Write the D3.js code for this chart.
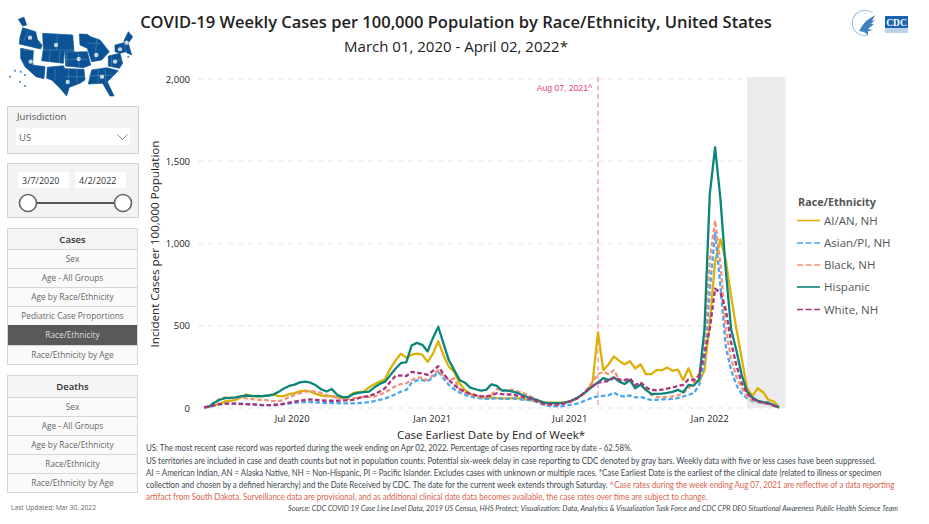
<!DOCTYPE html>
<html><head><meta charset="utf-8">
<script src="https://cdn.jsdelivr.net/npm/d3@7/dist/d3.min.js"></script>
<style>
html,body{margin:0;padding:0;background:#fff;overflow:hidden}
svg{display:block}
text{font-family:"Open Sans","Noto Sans",sans-serif}
.note{font-family:"Lato","Noto Sans",sans-serif;font-size:9px;fill:#40484f}
</style></head><body>
<svg id="c" width="929" height="524"></svg>
<script>
const startDate="2020-03-07";
const yTicks=[0,500,1000,1500,2000];
const xTickDates=["2020-07-01","2021-01-01","2021-07-01","2022-01-01"];
const xTickLabels=["Jul 2020","Jan 2021","Jul 2021","Jan 2022"];
const seriesNames=["AI/AN, NH","Asian/PI, NH","Black, NH","Hispanic","White, NH"];
const seriesColors=["#dcb005","#4aa5f5","#ef9476","#0a857a","#a8337f"];
const seriesDashed=[false,true,true,false,true];
const aian=[4,8,18,26,40,44,50,66,82,74,70,72,76,82,72,72,84,90,102,106,100,86,76,72,72,64,60,66,90,96,100,126,144,160,174,240,290,330,306,324,330,324,280,330,406,320,250,220,150,110,86,76,66,60,64,
60,58,58,60,58,54,50,44,38,34,32,32,32,36,44,58,80,106,160,460,230,266,314,286,266,284,240,266,206,206,230,230,246,226,234,170,242,160,160,230,520,890,1025,900,680,480,300,120,74,120,96,50,40,6];
const asian=[4,8,14,22,26,26,26,26,24,22,20,18,18,18,20,24,28,32,34,36,36,34,32,30,30,30,28,28,28,30,32,36,42,50,58,70,84,100,110,154,168,170,162,186,220,180,140,114,94,80,70,64,58,56,56,
60,56,56,58,54,50,48,44,28,18,12,10,10,14,20,26,38,50,64,70,74,78,94,74,70,76,64,68,56,50,50,52,54,56,60,70,80,90,140,290,720,1065,740,375,230,140,85,60,42,36,30,26,14,3];
const black=[4,12,36,56,64,62,60,64,58,54,50,50,46,42,40,50,66,80,90,100,102,100,92,78,70,64,58,56,58,64,66,68,70,80,94,114,134,146,150,170,184,184,168,200,230,194,170,180,114,94,80,74,70,70,80,
116,106,110,110,100,90,76,60,40,20,18,18,20,30,40,56,80,114,160,206,220,206,230,170,164,174,126,150,110,80,66,66,68,70,76,90,120,150,210,375,900,1140,880,480,300,190,120,70,46,38,32,26,14,3];
const hispanic=[4,10,34,50,60,62,64,72,76,72,74,72,76,82,98,118,134,142,156,160,154,138,114,100,116,80,66,66,84,92,96,100,126,146,160,200,240,274,278,380,396,384,344,426,494,390,290,230,170,154,124,114,106,110,144,
134,106,106,100,90,76,64,54,44,32,30,30,30,34,44,60,80,106,132,156,182,170,186,160,146,170,120,142,110,86,86,88,92,98,110,96,140,136,174,480,1300,1585,1270,840,480,350,200,100,64,44,36,32,18,4];
const white=[4,8,18,24,26,26,26,24,24,22,20,18,18,18,20,26,32,38,44,50,52,50,46,44,44,44,46,46,50,60,68,74,84,100,120,160,196,198,194,220,214,210,202,226,254,206,170,140,114,100,86,78,72,70,76,
90,84,82,82,74,66,58,50,36,24,22,20,24,30,44,58,80,110,134,154,160,164,184,174,170,180,140,156,126,110,108,112,118,124,134,140,174,170,194,330,480,725,700,600,400,260,150,90,56,40,32,26,14,3];
const seriesValues=[aian,asian,black,hispanic,white];
const casesMenu=["Sex","Age - All Groups","Age by Race/Ethnicity","Pediatric Case Proportions","Race/Ethnicity","Race/Ethnicity by Age"];
const deathsMenu=["Sex","Age - All Groups","Age by Race/Ethnicity","Race/Ethnicity","Race/Ethnicity by Age"];

const svg=d3.select("#c");
const parse=d3.utcParse("%Y-%m-%d");
const t0=parse(startDate);
const dates=aian.map((_,i)=>d3.utcDay.offset(t0,i*7));
const x=d3.scaleUtc().domain([t0,dates[dates.length-1]]).range([204,779]);
const y=d3.scaleLinear().domain([0,2000]).range([408,79]);

svg.append("rect").attr("x",747).attr("y",77).attr("width",38.5).attr("height",331).attr("fill","#ebebeb");
svg.append("g").selectAll("line").data(yTicks).join("line")
 .attr("x1",198).attr("x2",785).attr("y1",d=>y(d)).attr("y2",d=>y(d))
 .attr("stroke","#ededed").attr("stroke-width",1.4).attr("stroke-dasharray","5,5");
svg.append("g").selectAll("text").data(yTicks).join("text")
 .attr("x",190).attr("y",d=>y(d)+3.5).attr("text-anchor","end").attr("font-size",9.5).attr("fill","#222")
 .text(d=>d3.format(",")(d));
svg.append("g").selectAll("text").data(xTickDates).join("text")
 .attr("x",d=>x(parse(d))).attr("y",421.5).attr("text-anchor","middle").attr("font-size",9.5).attr("fill","#222")
 .text((d,i)=>xTickLabels[i]);
const refDate=parse("2021-08-07");
svg.append("line").attr("x1",x(refDate)).attr("x2",x(refDate)).attr("y1",77).attr("y2",408)
 .attr("stroke","#f4bcc8").attr("stroke-width",2).attr("stroke-dasharray","5,3.5");
svg.append("text").attr("x",x(refDate)-6).attr("y",91).attr("text-anchor","end").attr("font-size",8.6).attr("fill","#e0446a").style("font-family","'Liberation Sans',sans-serif").text("Aug 07, 2021^");

const line=d3.line().x((d,i)=>x(dates[i])).y(d=>y(d)).curve(d3.curveLinear);
svg.append("g").attr("fill","none").selectAll("path").data(seriesValues).join("path")
 .attr("d",d=>line(d)).attr("stroke",(d,i)=>seriesColors[i]).attr("stroke-width",2.3)
 .attr("stroke-dasharray",(d,i)=>seriesDashed[i]?"4.5,2.5":null).attr("stroke-linejoin","round");

svg.append("text").attr("x",456).attr("y",28).attr("text-anchor","middle").attr("font-size",16.5).attr("font-weight",600).attr("fill","#222")
 .text("COVID-19 Weekly Cases per 100,000 Population by Race/Ethnicity, United States");
svg.append("text").attr("x",456).attr("y",52).attr("text-anchor","middle").attr("font-size",15).attr("fill","#222")
 .text("March 01, 2020 - April 02, 2022*");
svg.append("text").attr("transform","translate(159,244) rotate(-90)").attr("text-anchor","middle").attr("font-size",11.6).attr("fill","#222")
 .text("Incident Cases per 100,000 Population");
svg.append("text").attr("x",491).attr("y",438.5).attr("text-anchor","middle").attr("font-size",11.5).attr("fill","#222")
 .text("Case Earliest Date by End of Week*");

svg.append("text").attr("x",798).attr("y",205.5).attr("font-size",10.8).attr("font-weight",700).attr("fill","#555").text("Race/Ethnicity");
const legendY=[220.5,243,265,287,309.5];
const lg=svg.append("g").selectAll("g").data(seriesNames).join("g").attr("transform",(d,i)=>`translate(797,${legendY[i]})`);
lg.append("line").attr("x2",23).attr("stroke",(d,i)=>seriesColors[i]).attr("stroke-width",1.6).attr("stroke-dasharray",(d,i)=>seriesDashed[i]?"6,2.6":null);
lg.append("text").attr("x",27).attr("y",4).attr("font-size",11.5).attr("fill","#555").text(d=>d);

// fit a text to a given pixel width by horizontal scaling
function fit(t,px,py,w){
 const k=w/t.node().getComputedTextLength();
 t.attr("transform",`translate(${px},${py}) scale(${k},1)`);
}
const notes=[
 [451,487,[["US: The most recent case record was reported during the week ending on Apr 02, 2022. Percentage of cases reporting race by date - 62.58%.","#40484f"]]],
 [464,731,[["US territories are included in case and death counts but not in population counts. Potential six-week delay in case reporting to CDC denoted by gray bars. Weekly data with five or less cases have been suppressed.","#40484f"]]],
 [476,737,[["AI = American Indian, AN = Alaska Native, NH = Non-Hispanic, PI = Pacific Islander. Excludes cases with unknown or multiple races.  *Case Earliest Date is the earliest of the clinical date (related to illness or specimen","#40484f"]]],
 [488,750,[["collection and chosen by a defined hierarchy) and the Date Received by CDC. The date for the current week extends through Saturday. ","#40484f"],["^Case rates during the week ending Aug 07, 2021 are reflective of a data reporting","#d9634f"]]],
 [500,562,[["artifact from South Dakota. Surveillance data are provisional, and as additional clinical date data becomes available, the case rates over time are subject to change.","#d9634f"]]]
];
notes.forEach(n=>{
 const t=svg.append("text").attr("class","note");
 n[2].forEach(s=>t.append("tspan").attr("fill",s[1]).text(s[0]));
 fit(t,146,n[0],n[1]);
});
fit(svg.append("text").attr("class","note").attr("font-style","italic").style("font-size","8px")
 .text("Source: CDC COVID 19 Case Line Level Data, 2019 US Census, HHS Protect; Visualization: Data, Analytics & Visualization Task Force and CDC CPR DEO Situational Awareness Public Health Science Team"),288,511,611);

const box=(x0,y0,w,h,f,s)=>svg.append("rect").attr("x",x0).attr("y",y0).attr("width",w).attr("height",h).attr("fill",f).attr("stroke",s||"none");
box(7.5,106.5,131,47,"#f3f3f3","#d0d0d0");
svg.append("text").attr("x",17).attr("y",120).attr("font-size",9.5).attr("fill","#555").text("Jurisdiction");
box(16,128,114,17,"#fff");
svg.append("text").attr("x",19).attr("y",141).attr("font-size",9.5).attr("fill","#666").text("US");
svg.append("path").attr("d","M117.5 134.5l5 5l5 -5").attr("fill","none").attr("stroke","#888");
box(7.5,163.5,131,54,"#f3f3f3","#d0d0d0");
box(18,172,51,16,"#fff"); box(75,172,51,16,"#fff");
svg.append("text").attr("x",22).attr("y",184).attr("font-size",9).attr("fill","#333").text("3/7/2020");
svg.append("text").attr("x",79).attr("y",184).attr("font-size",9).attr("fill","#333").text("4/2/2022");
svg.append("line").attr("x1",28).attr("x2",123).attr("y1",203).attr("y2",203).attr("stroke","#555").attr("stroke-width",2);
[28,123].forEach(cx=>svg.append("circle").attr("cx",cx).attr("cy",203).attr("r",8.5).attr("fill","#fff").attr("stroke","#666").attr("stroke-width",1.6));

function menu(title,items,y0,hdr,rows,active){
 const y1=rows[rows.length-1];
 box(7.5,y0+.5,130,y1-y0,"#fafafa","#d6d6d6");
 box(8,y0+1,129,hdr-y0-1,"#f4f4f4");
 svg.append("text").attr("x",72.5).attr("y",(y0+hdr)/2+4).attr("text-anchor","middle").attr("font-size",9.5).attr("font-weight",600).attr("fill","#333").text(title);
 items.forEach((it,i)=>{
  const a=i===active, top=i?rows[i-1]:hdr, bot=rows[i];
  if(a) box(8,top,129,bot-top,"#595959");
  svg.append("line").attr("x1",8).attr("x2",137).attr("y1",bot+.5).attr("y2",bot+.5).attr("stroke","#d6d6d6");
  svg.append("text").attr("x",72.5).attr("y",(top+bot)/2+3).attr("text-anchor","middle").attr("font-size",8.3)
   .attr("fill",a?"#ddd":"#666").text(it);
 });
 svg.append("line").attr("x1",8).attr("x2",137).attr("y1",hdr+.5).attr("y2",hdr+.5).attr("stroke","#d6d6d6");
}
menu("Cases",casesMenu,228,249,[268,287,306,325,345,364],4);
menu("Deaths",deathsMenu,375,397,[416,435,454,473,492],-1);
fit(svg.append("text").attr("font-size",7.5).attr("fill","#666").text("Last Updated: Mar 30, 2022"),11,510,85);

const mapShapes=[
 "68,83 107,95 112,118 126,135 122,147 58,132 60,112",
 "62,145 100,152 98,195 135,200 132,236 108,230 75,200 62,175",
 "128,100 218,105 222,155 193,155 190,190 125,182 130,148",
 "142,202 190,197 195,206 252,208 255,240 240,250 208,262 200,288 180,265 155,240 140,235",
 "195,157 262,155 272,195 250,203 197,198",
 "238,102 262,103 272,110 300,120 328,155 305,180 275,185 262,145 240,135",
 "265,252 275,210 320,203 355,212 322,245 342,288 330,288 308,250",
 "325,168 360,160 368,190 358,205 325,198",
 "345,135 372,128 378,155 360,160 345,155",
 "372,122 385,95 398,110 385,130 395,165 380,158",
 "55,58 72,52 80,75 68,78"
];
const mapStateLines=["128,140 112,118","85,92 70,125","172,103 170,150","130,150 222,150","150,150 148,186","180,152 178,188","98,152 70,150",
 "165,205 165,240","205,205 205,240","230,208 232,248","195,230 255,230","200,160 200,195","235,157 238,200","197,178 262,178",
 "262,130 300,130","290,118 285,180","265,228 340,225","295,207 295,250","315,207 318,250","335,170 335,200","345,180 365,180"];
const mapDots=[[90,113],[92,185],[168,135],[203,246],[236,177],[289,165],[306,230],[345,185],[360,148],[380,128]];
const mapBits=[[45,212],[62,215],[75,225],[30,230],[60,245],[75,258],[385,170]];
const mg=svg.append("g").attr("transform","scale(0.3333)");
mg.selectAll("polygon").data(mapShapes).join("polygon").attr("points",d=>d).attr("fill","#0b5394").attr("stroke","#0b5394").attr("stroke-width",2);
mg.selectAll("polyline").data(mapStateLines).join("polyline").attr("points",d=>d).attr("fill","none").attr("stroke","#5c8fb8").attr("stroke-width",1.6);
mg.selectAll("circle.b").data(mapBits).join("circle").attr("class","b").attr("cx",d=>d[0]).attr("cy",d=>d[1]).attr("r",3).attr("fill","#3b7fb5");
mg.selectAll("circle.d").data(mapDots).join("circle").attr("class","d").attr("cx",d=>d[0]).attr("cy",d=>d[1]).attr("r",6.5).attr("fill","#c5d6e5");

svg.append("path").attr("d",d3.arc()({innerRadius:12.3,outerRadius:13.2,startAngle:2.9,endAngle:6.9})).attr("transform","translate(865,23)").attr("fill","#8ab9e4");
svg.append("path").attr("d","M866 21l9-6l-3 6l3-1l-4 4l3 0l-6 5l5 1l-5 1l0 4l-4-3l-5-1l3-5z").attr("fill","#3f82c2");
box(885,16,23,12,"#1a63b0");
box(885,28,23,5,"#bcd3ea");
svg.append("text").attr("x",896.5).attr("y",26).attr("text-anchor","middle").attr("font-size",9.5).attr("font-weight",700).attr("fill","#fff").style("font-family","'Liberation Serif',serif").text("CDC");
</script>
</body></html>
